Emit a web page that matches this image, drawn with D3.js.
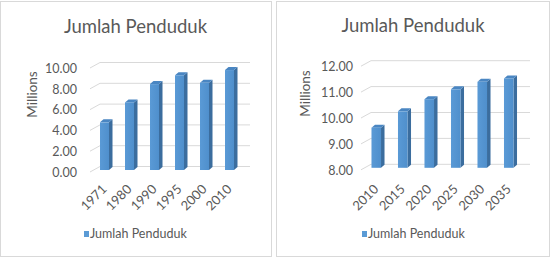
<!DOCTYPE html>
<html>
<head>
<meta charset="utf-8">
<script src="https://cdn.jsdelivr.net/npm/d3@7"></script>
<style>
    body { margin: 0; background: #fff; }
    svg { display: block; font-family: Lato, "Open Sans", sans-serif; }
</style>
</head>
<body>
<script>
//chart data, values in millions
var years1 = ["1971", "1980", "1990", "1995", "2000", "2010"];
var pop1 = [4.58, 6.50, 8.26, 9.11, 8.39, 9.61];
var ticks1 = [0, 2, 4, 6, 8, 10];

var years2 = ["2010", "2015", "2020", "2025", "2030", "2035"];
var pop2 = [9.55, 10.18, 10.65, 11.03, 11.32, 11.45];
var ticks2 = [8, 9, 10, 11, 12];

var titleText = "Jumlah Penduduk";
var axisTitle = "Millions";

//colours
var textColor = "#595959",
    gridColor = "#d9d9d9",
    frontColor = "#5b9bd5",
    sideColor = "#3b6d9e",
    topColor = "#4a86c2";

var svg = d3.select("body")
    .append("svg")
    .attr("width", 553)
    .attr("height", 258);

//bar face gradient
var grad = svg.append("defs").append("linearGradient")
    .attr("id", "frontGrad")
    .attr("x1", 0).attr("x2", 1).attr("y1", 0).attr("y2", 0);
grad.append("stop").attr("offset", "0%").attr("stop-color", "#5a9ad6");
grad.append("stop").attr("offset", "100%").attr("stop-color", "#4f8fcc");

//left panel and right panel layout
setChart({
    frame: [0.5, 1.5, 271, 255],
    titleX: 135.5, titleY: 33,
    wall: [100, 250], yRange: [166.5, 62.5],
    labelX: 77, axisTitleX: 32, axisTitleY: 94.5,
    legendX: 84
}, years1, pop1, ticks1);

setChart({
    frame: [276.5, 1.5, 273, 255],
    titleX: 413, titleY: 32,
    wall: [371, 530], yRange: [164.3, 60.7],
    labelX: 353, axisTitleX: 305, axisTitleY: 93.5,
    legendX: 362
}, years2, pop2, ticks2);

function setChart(p, cats, vals, ticks){
    var g = svg.append("g");

    //chart frame
    g.append("rect")
        .attr("x", p.frame[0])
        .attr("y", p.frame[1])
        .attr("width", p.frame[2])
        .attr("height", p.frame[3])
        .attr("fill", "#fff")
        .attr("stroke", gridColor);

    //back wall scale
    var yScale = d3.scaleLinear()
        .domain([ticks[0], ticks[ticks.length - 1]])
        .range(p.yRange);

    var floorDx = -10, floorDy = 5.5;

    //gridlines on back wall + side wall
    g.selectAll(".grid")
        .data(ticks)
        .enter()
        .append("polyline")
        .attr("class", "grid")
        .attr("fill", "none")
        .attr("stroke", gridColor)
        .attr("stroke-width", 1)
        .attr("points", function(d){
            var y = yScale(d);
            return [p.wall[1], y, p.wall[0], y, p.wall[0] + floorDx, y + floorDy].join(",");
        });

    //y tick labels
    g.selectAll(".ytick")
        .data(ticks)
        .enter()
        .append("text")
        .attr("class", "ytick")
        .attr("x", p.labelX)
        .attr("y", function(d){ return yScale(d) + 6; })
        .attr("dy", "0.35em")
        .attr("text-anchor", "end")
        .attr("fill", textColor)
        .style("font-size", "12.5px")
        .text(function(d){ return d3.format(".2f")(d); });

    //category scale for bar fronts
    var xScale = d3.scaleBand()
        .domain(cats)
        .range([p.wall[0] - 8, p.wall[1] - 8])
        .paddingInner(0.64)
        .paddingOuter(0.32);

    var depthX = 3.5, depthY = 3, shift = 3.5;
    var base = yScale(ticks[0]) + shift;

    var bars = g.selectAll(".bar")
        .data(vals)
        .enter()
        .append("g")
        .attr("class", "bar");

    //side face
    bars.append("polygon")
        .attr("fill", sideColor)
        .attr("points", function(d, i){
            var x = xScale(cats[i]) + xScale.bandwidth(),
                yt = yScale(d) + shift;
            return [x, yt, x + depthX, yt - depthY, x + depthX, base - depthY, x, base].join(",");
        });

    //top face
    bars.append("polygon")
        .attr("fill", topColor)
        .attr("points", function(d, i){
            var x = xScale(cats[i]), w = xScale.bandwidth(),
                yt = yScale(d) + shift;
            return [x, yt, x + w, yt, x + w + depthX, yt - depthY, x + depthX, yt - depthY].join(",");
        });

    //front face
    bars.append("rect")
        .attr("fill", "url(#frontGrad)")
        .attr("x", function(d, i){ return xScale(cats[i]); })
        .attr("y", function(d){ return yScale(d) + shift; })
        .attr("width", xScale.bandwidth())
        .attr("height", function(d){ return base - yScale(d) - shift; });

    //rotated category labels
    g.selectAll(".xtick")
        .data(cats)
        .enter()
        .append("text")
        .attr("class", "xtick")
        .attr("text-anchor", "end")
        .attr("fill", textColor)
        .style("font-size", "13px")
        .attr("transform", function(d){
            return "translate(" + (xScale(d) + xScale.bandwidth() / 2 + 3) + ",190) rotate(-45)";
        })
        .text(function(d){ return d; });

    //chart title
    g.append("text")
        .attr("x", p.titleX)
        .attr("y", p.titleY)
        .attr("text-anchor", "middle")
        .attr("fill", textColor)
        .style("font-size", "18.5px")
        .text(titleText);

    //axis title
    g.append("text")
        .attr("transform", "translate(" + p.axisTitleX + "," + p.axisTitleY + ") rotate(-90)")
        .attr("text-anchor", "middle")
        .attr("dy", "0.35em")
        .attr("fill", textColor)
        .style("font-size", "13.5px")
        .text(axisTitle);

    //legend
    var legend = g.append("g")
        .attr("transform", "translate(" + p.legendX + ",231)");
    legend.append("rect")
        .attr("width", 5)
        .attr("height", 6)
        .attr("fill", frontColor);
    legend.append("text")
        .attr("x", 6)
        .attr("y", 3)
        .attr("dy", "0.35em")
        .attr("fill", textColor)
        .style("font-size", "12.5px")
        .text(titleText);
}
</script>
</body>
</html>
